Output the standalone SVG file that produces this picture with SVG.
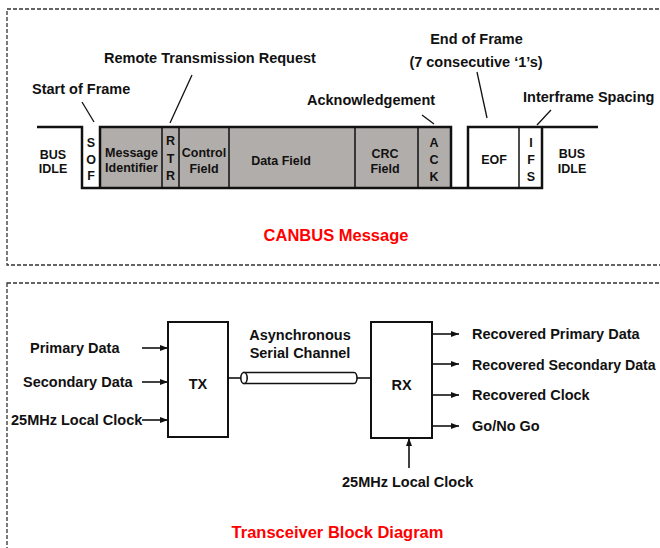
<svg xmlns="http://www.w3.org/2000/svg" width="660" height="548" viewBox="0 0 660 548">
<defs>
<marker id="ah" markerUnits="userSpaceOnUse" markerWidth="9" markerHeight="7" refX="8" refY="3.5" orient="auto">
<path d="M0,0.5 L8,3.5 L0,6.5 Z" fill="#111"/>
</marker>
</defs>
<style>
text{font-family:"Liberation Sans",Arial,sans-serif;font-weight:bold;fill:#111;}
.lbl{font-size:14.5px;}
.mid{text-anchor:middle;}
.in{font-size:12.5px;text-anchor:middle;}
.title{font-size:16.5px;fill:#f00;text-anchor:middle;}
.wave{fill:none;stroke:#111;stroke-width:2.5;}
.div{stroke:#111;stroke-width:1.5;}
.lead{stroke:#111;stroke-width:1.3;}
.frame{fill:none;stroke:#333;stroke-width:1.3;stroke-dasharray:4 2;}
.box{fill:#fff;stroke:#111;stroke-width:2;}
.arr{stroke:#111;stroke-width:1.6;fill:none;marker-end:url(#ah);}
.cable{fill:#fff;stroke:#111;stroke-width:1.6;}
</style>

<!-- frames -->
<rect class="frame" x="7" y="9" width="665" height="256"/>
<rect class="frame" x="7" y="283" width="665" height="300"/>

<!-- CANBUS message frame -->
<g id="canbus-frame">
<rect x="100" y="127" width="351" height="61" fill="#b1adaa" stroke="none"/>
<path class="wave" d="M37,127 H82 V188 H542 V127"/>
<path class="wave" d="M100,188 V127 H451 V188"/>
<path class="wave" d="M468,188 V127 H598"/>
<line class="div" x1="162" y1="127" x2="162" y2="188"/>
<line class="div" x1="179" y1="127" x2="179" y2="188"/>
<line class="div" x1="229" y1="127" x2="229" y2="188"/>
<line class="div" x1="355" y1="127" x2="355" y2="188"/>
<line class="div" x1="418" y1="127" x2="418" y2="188"/>
<line class="div" x1="519" y1="127" x2="519" y2="188"/>
</g>

<g id="field-labels">
<text class="in" x="53" y="159">BUS</text>
<text class="in" x="53" y="173">IDLE</text>
<text class="in" x="91" y="146.5">S</text>
<text class="in" x="91" y="164">O</text>
<text class="in" x="91" y="180">F</text>
<text class="in" x="131.5" y="157">Message</text>
<text class="in" x="131.5" y="172">Identifier</text>
<text class="in" x="170.5" y="145">R</text>
<text class="in" x="170.5" y="162.5">T</text>
<text class="in" x="170.5" y="180">R</text>
<text class="in" x="204" y="157">Control</text>
<text class="in" x="204" y="173">Field</text>
<text class="in" x="281" y="164.5">Data Field</text>
<text class="in" x="385" y="157.5">CRC</text>
<text class="in" x="385" y="173">Field</text>
<text class="in" x="434" y="147">A</text>
<text class="in" x="434" y="163.5">C</text>
<text class="in" x="434" y="180.5">K</text>
<text class="in" x="494" y="164">EOF</text>
<text class="in" x="531" y="146.5">I</text>
<text class="in" x="531" y="163.5">F</text>
<text class="in" x="531" y="180.5">S</text>
<text class="in" x="572" y="158">BUS</text>
<text class="in" x="572" y="173">IDLE</text>
</g>

<g id="callouts">
<line class="lead" x1="82" y1="102" x2="94" y2="122"/>
<line class="lead" x1="192" y1="75" x2="170" y2="123"/>
<line class="lead" x1="422" y1="115" x2="434" y2="124"/>
<line class="lead" x1="477" y1="72" x2="487" y2="118"/>
<line class="lead" x1="551" y1="110" x2="537" y2="125"/>
<text class="lbl" x="32" y="94">Start of Frame</text>
<text class="lbl" x="104" y="63">Remote Transmission Request</text>
<text class="lbl" x="307" y="105">Acknowledgement</text>
<text class="lbl mid" x="476.5" y="44">End of Frame</text>
<text class="lbl mid" x="476" y="67">(7 consecutive ‘1’s)</text>
<text class="lbl" x="523" y="102">Interframe Spacing</text>
</g>

<text class="title" x="336" y="241">CANBUS Message</text>

<!-- Transceiver block diagram -->
<g id="tx">
<rect class="box" x="168" y="322" width="60" height="115"/>
<text class="lbl mid" x="198" y="389">TX</text>
</g>
<g id="rx">
<rect class="box" x="371" y="322" width="61" height="116"/>
<text class="lbl mid" x="401.5" y="390">RX</text>
</g>
<g id="channel">
<line x1="228" y1="378" x2="241" y2="378" stroke="#111" stroke-width="1.6"/>
<line x1="357" y1="378" x2="371" y2="378" stroke="#111" stroke-width="1.6"/>
<path class="cable" d="M244,372.5 H354 A3,5.5 0 0 1 354,383.5 H244 Z"/>
<ellipse class="cable" cx="244" cy="378" rx="3.2" ry="5.5"/>
<text class="lbl mid" x="300" y="340">Asynchronous</text>
<text class="lbl mid" x="300" y="358">Serial Channel</text>
</g>

<g id="connectors">
<line class="arr" x1="142" y1="348" x2="168" y2="348"/>
<line class="arr" x1="142" y1="382" x2="168" y2="382"/>
<line class="arr" x1="142" y1="420" x2="168" y2="420"/>
<line class="arr" x1="432" y1="334" x2="459" y2="334"/>
<line class="arr" x1="432" y1="364" x2="459" y2="364"/>
<line class="arr" x1="432" y1="395" x2="459" y2="395"/>
<line class="arr" x1="432" y1="426" x2="459" y2="426"/>
<line class="arr" x1="409" y1="468" x2="409" y2="438"/>
</g>

<g id="io-labels">
<text class="lbl" x="30" y="353">Primary Data</text>
<text class="lbl" x="23" y="387">Secondary Data</text>
<text class="lbl" x="11" y="425">25MHz Local Clock</text>
<text class="lbl" x="472" y="339">Recovered Primary Data</text>
<text class="lbl" x="472" y="370" style="font-size:14.2px">Recovered Secondary Data</text>
<text class="lbl" x="472" y="400">Recovered Clock</text>
<text class="lbl" x="472" y="431">Go/No Go</text>
<text class="lbl" x="342" y="487">25MHz Local Clock</text>
</g>

<text class="title" x="337.5" y="538">Transceiver Block Diagram</text>
</svg>
